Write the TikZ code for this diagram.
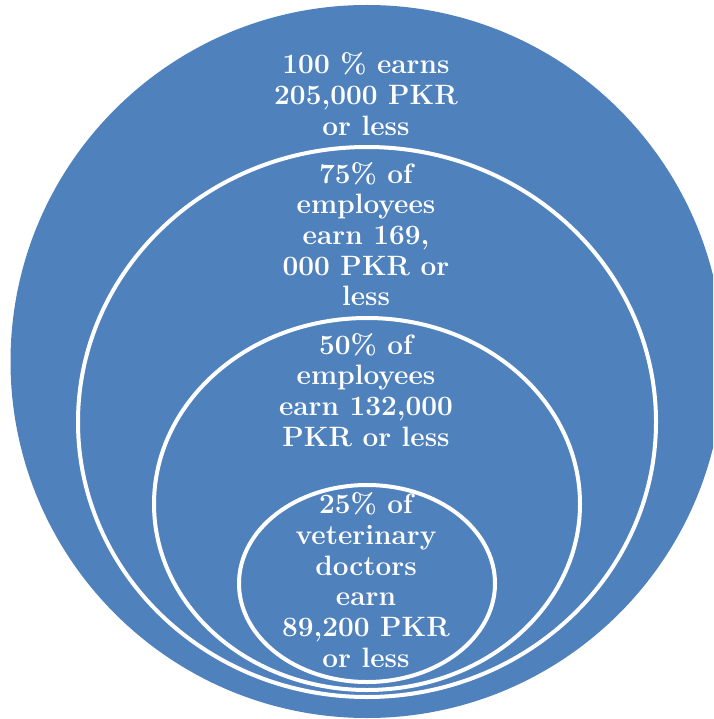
\documentclass[tikz,border=0pt]{standalone}
\definecolor{ringblue}{RGB}{79,129,189}
\begin{document}
\begin{tikzpicture}[x=1pt,y=-1pt,
  ring/.style={fill=ringblue,draw=white,line width=4pt},
  lbl/.style={text=white,align=center,inner sep=0pt,
    font=\bfseries\fontsize{28}{30.7}\selectfont}]
\clip (0,0) rectangle (713,719);
\fill[white] (0,0) rectangle (713,719);
% outer disc
\fill[ringblue] (367,361.5) circle [radius=356.5];
% 75% ring
\draw[ring] (367,422) ellipse [x radius=289, y radius=275];
% 50% ring
\draw[ring] (367,504) ellipse [x radius=213, y radius=186];
% 25% ring
\draw[ring] (367,583.5) ellipse [x radius=128, y radius=98.5];
% labels
\node[lbl] (t100) at (366,94) {100 \% earns\\205,000 PKR\\or less};
\node[lbl] (t75) at (366,234) {75\% of\\employees\\earn 169,\\000 PKR or\\less};
\node[lbl] (t50) at (366,390) {50\% of\\employees\\earn 132,000\\PKR or less};
\node[lbl] (t25) at (366,580) {25\% of\\veterinary\\doctors\\earn\\89,200 PKR\\or less};
\end{tikzpicture}
\end{document}
